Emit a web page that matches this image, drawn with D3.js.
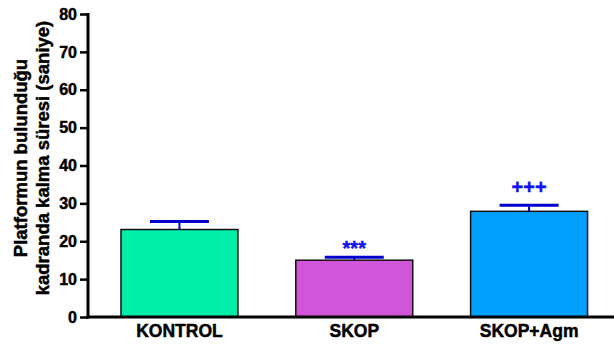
<!DOCTYPE html>
<html>
<head>
<meta charset="utf-8">
<script src="https://cdn.jsdelivr.net/npm/d3@7"></script>
<style>
  html, body { margin: 0; padding: 0; background: #fff; }
  svg { display: block; font-family: "Liberation Sans", Arial, sans-serif; }
</style>
</head>
<body>
<svg id="chart" width="614" height="346"></svg>
<script>
// Group labels, means, and upper error (mean + SEM)
const categories = ["KONTROL", "SKOP", "SKOP+Agm"];
const means = [23.1, 15.0, 27.9];
const errors = [2.1, 0.8, 1.6];
const colors = ["#00EEAA", "#D055D8", "#00A0FF"];
const markers = ["", "***", "+++"];
const yTicks = [0, 10, 20, 30, 40, 50, 60, 70, 80];
const yTitle = ["Platformun bulunduğu", "kadranda kalma süresi (saniye)"];

const svg = d3.select("#chart");

const y = d3.scaleLinear().domain([0, 80]).range([317, 14]);
const x = d3.scaleBand()
  .domain(categories)
  .range([88, 614])
  .paddingInner(0.331)
  .paddingOuter(0.17)
  .align(0.555);

const data = categories.map((c, i) => ({ c, m: means[i], e: errors[i], col: colors[i], mk: markers[i] }));

// Bars
svg.selectAll("rect.bar").data(data).join("rect")
  .attr("class", "bar")
  .attr("x", d => x(d.c))
  .attr("y", d => y(d.m))
  .attr("width", x.bandwidth())
  .attr("height", d => y(0) - y(d.m))
  .attr("fill", d => d.col)
  .attr("stroke", "#111")
  .attr("stroke-width", 1.5);

// Error bars (upper only)
const capHalf = 29.5;
const eb = svg.selectAll("g.err").data(data).join("g").attr("class", "err");
eb.append("line")
  .attr("x1", d => x(d.c) + x.bandwidth() / 2)
  .attr("x2", d => x(d.c) + x.bandwidth() / 2)
  .attr("y1", d => y(d.m))
  .attr("y2", d => y(d.m + d.e))
  .attr("stroke", "#0000CC").attr("stroke-width", 2);
eb.append("line")
  .attr("x1", d => x(d.c) + x.bandwidth() / 2 - capHalf)
  .attr("x2", d => x(d.c) + x.bandwidth() / 2 + capHalf)
  .attr("y1", d => y(d.m + d.e))
  .attr("y2", d => y(d.m + d.e))
  .attr("stroke", "#0000CC").attr("stroke-width", 3);

// Significance markers (asterisks sit high in the em box, so they need less lift)
svg.selectAll("text.mk").data(data.filter(d => d.mk)).join("text")
  .attr("class", "mk")
  .attr("x", d => x(d.c) + x.bandwidth() / 2)
  .attr("y", d => y(d.m + d.e) - (d.mk.startsWith("*") ? 2 : 11))
  .attr("text-anchor", "middle")
  .attr("font-size", 20)
  .attr("font-weight", "bold")
  .attr("fill", "#1212EE")
  .attr("stroke", "#1212EE")
  .attr("stroke-width", 0.4)
  .text(d => d.mk);

// Heavier strokes on labels to thicken the bold face
const heavy = sel => sel.attr("stroke", "#000").attr("stroke-width", 0.45).attr("fill", "#000")
  .attr("font-weight", "bold").attr("font-family", "Liberation Sans, Arial, sans-serif");

// Y axis
const yAxis = d3.axisLeft(y).tickValues(yTicks).tickSize(8).tickPadding(3);
const gy = svg.append("g").attr("transform", "translate(88,0)").call(yAxis);
gy.select(".domain").attr("stroke", "#000").attr("stroke-width", 3).attr("d", `M0,${y(80) - 1}V${y(0) + 1.5}`);
gy.selectAll(".tick line").attr("stroke", "#000").attr("stroke-width", 2.5);
gy.selectAll(".tick text").attr("font-size", 16).call(heavy);

// X axis
const xAxis = d3.axisBottom(x).tickSize(0).tickPadding(8);
const gx = svg.append("g").attr("transform", `translate(0,${y(0)})`).call(xAxis);
gx.select(".domain").attr("stroke", "#000").attr("stroke-width", 3).attr("d", "M86.5,0H614");
gx.selectAll(".tick text").attr("font-size", 17.5).call(heavy);

// Y axis title (two lines, rotated)
const tt = svg.append("text")
  .attr("transform", "translate(0,158) rotate(-90)")
  .attr("text-anchor", "middle")
  .attr("font-size", 18.5)
  .call(heavy);
tt.selectAll("tspan").data(yTitle).join("tspan")
  .attr("x", 0)
  .attr("y", (d, i) => 27 + i * 22)
  .text(d => d);
</script>
</body>
</html>
